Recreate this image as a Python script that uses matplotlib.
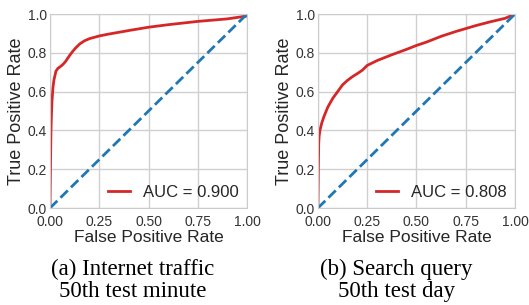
import matplotlib
matplotlib.use("Agg")
import matplotlib.pyplot as plt

# ROC curve (a): Internet traffic, 50th test minute
fpr_a = [0.0, 0.001, 0.003, 0.005, 0.008, 0.01, 0.015, 0.02, 0.03, 0.04, 0.05,
         0.06, 0.07, 0.08, 0.09, 0.1, 0.115, 0.13, 0.15, 0.175, 0.2, 0.25,
         0.3, 0.4, 0.5, 0.6, 0.75, 0.9, 1.0]
tpr_a = [0.0, 0.1, 0.25, 0.4, 0.5, 0.55, 0.62, 0.66, 0.705, 0.72, 0.727,
         0.735, 0.745, 0.757, 0.772, 0.787, 0.807, 0.825, 0.845, 0.862, 0.873, 0.887,
         0.897, 0.915, 0.932, 0.945, 0.962, 0.975, 0.99]
auc_a = 0.900

# ROC curve (b): Search query, 50th test day
fpr_b = [0.0, 0.002, 0.004, 0.006, 0.01, 0.02, 0.03, 0.05, 0.075, 0.1, 0.125,
         0.15, 0.175, 0.2, 0.225, 0.25, 0.3, 0.375, 0.45, 0.5, 0.55, 0.625,
         0.7, 0.75, 0.8, 0.875, 0.95, 1.0]
tpr_b = [0.0, 0.2, 0.33, 0.37, 0.40, 0.44, 0.47, 0.52, 0.565, 0.6, 0.635,
         0.658, 0.677, 0.693, 0.71, 0.735, 0.76, 0.79, 0.818, 0.838, 0.855, 0.885,
         0.91, 0.925, 0.94, 0.96, 0.978, 1.0]
auc_b = 0.808

captions = ["(a) Internet traffic\n50th test minute",
            "(b) Search query\n50th test day"]

ticks_x = [0.0, 0.25, 0.5, 0.75, 1.0]
ticks_y = [0.0, 0.2, 0.4, 0.6, 0.8, 1.0]

plt.rcParams["font.family"] = ["Liberation Sans", "DejaVu Sans"]

fig = plt.figure(figsize=(5.29, 3.05), dpi=100)
ax_a = fig.add_axes([0.0945, 0.318, 0.3725, 0.636])
ax_b = fig.add_axes([0.601, 0.318, 0.3725, 0.636])

panels = [(ax_a, fpr_a, tpr_a, auc_a), (ax_b, fpr_b, tpr_b, auc_b)]

for ax, fpr, tpr, auc in panels:
    ax.plot(fpr, tpr, color="#d62728", lw=2, label="AUC = %.3f" % auc)
    ax.plot([0, 1], [0, 1], color="#1f77b4", lw=2, ls="--")
    ax.set_xlim(0, 1)
    ax.set_ylim(0, 1)
    ax.set_xticks(ticks_x)
    ax.set_yticks(ticks_y)
    ax.set_xticklabels(["%.2f" % t for t in ticks_x])
    ax.set_yticklabels(["%.1f" % t for t in ticks_y])
    ax.tick_params(labelsize=10, length=0, colors="#333333")
    ax.tick_params(axis="x", pad=5)
    ax.tick_params(axis="y", pad=2)
    ax.grid(True, color="#d0d0d0", lw=1)
    ax.set_axisbelow(True)
    for s in ax.spines.values():
        s.set_color("#cccccc")
    ax.set_xlabel("False Positive Rate", fontsize=12.5, color="#262626", labelpad=0.5)
    ax.set_ylabel("True Positive Rate", fontsize=13, color="#262626", labelpad=2)
    ax.legend(loc="lower right", frameon=False, fontsize=12, handlelength=1.3,
              borderaxespad=0.1, labelcolor="#262626")

for x, text in zip([0.25, 0.75], captions):
    fig.text(x, 0.01, text, ha="center", va="bottom", fontsize=16.5,
             family=["Liberation Serif", "DejaVu Serif"], linespacing=1.05)

fig.savefig("out.png", dpi=100)
